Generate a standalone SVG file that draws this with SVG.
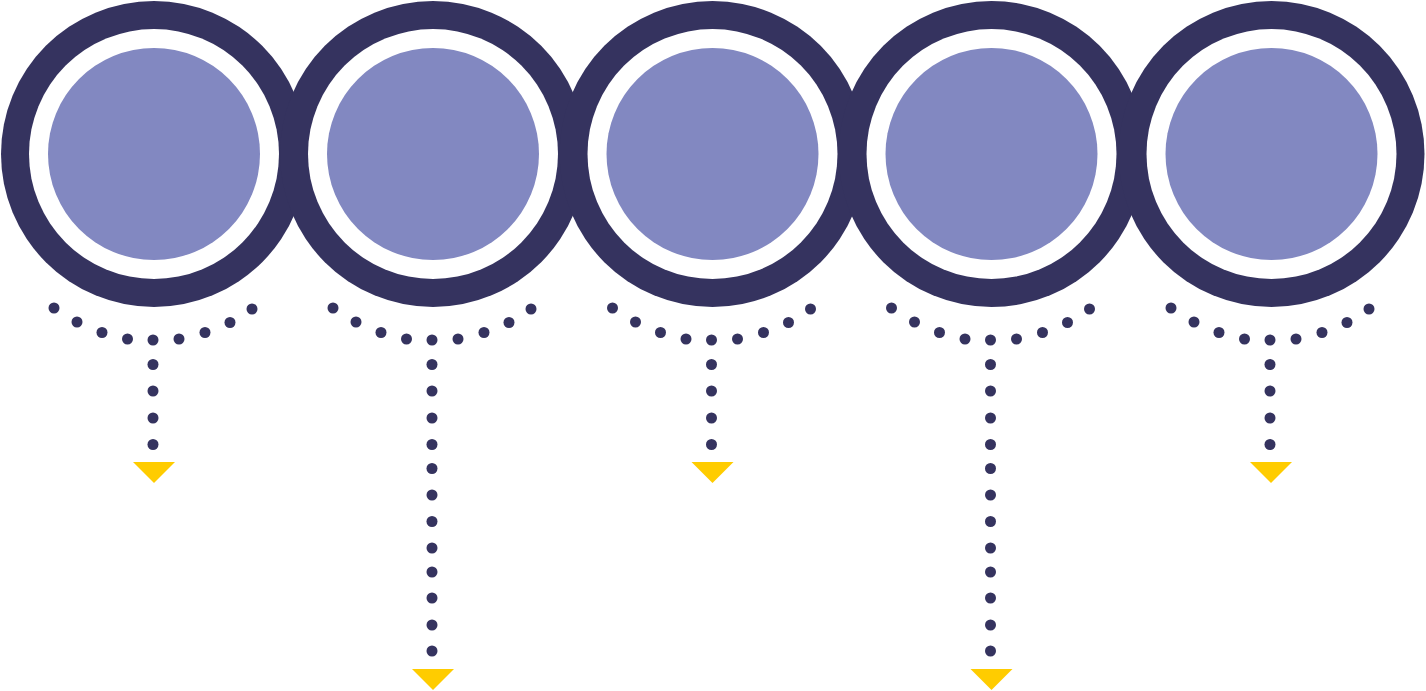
<svg xmlns="http://www.w3.org/2000/svg" xmlns:xlink="http://www.w3.org/1999/xlink" width="1426" height="691" viewBox="0 0 1426 691">
<style>
.outer{fill:#35335f}
.gap{fill:#ffffff}
.inner{fill:#8288c1}
.dot{fill:#35335f}
.head{fill:#ffcc00}
</style>
<defs>
<g id="arc">
<circle class="dot" cx="-100" cy="308" r="5.5"/>
<circle class="dot" cx="-77" cy="322" r="5.5"/>
<circle class="dot" cx="-52" cy="332.5" r="5.5"/>
<circle class="dot" cx="-26.5" cy="339" r="5.5"/>
<circle class="dot" cx="-1" cy="340" r="5.5"/>
<circle class="dot" cx="25" cy="339" r="5.5"/>
<circle class="dot" cx="51" cy="332.5" r="5.5"/>
<circle class="dot" cx="76" cy="322.5" r="5.5"/>
<circle class="dot" cx="98" cy="309" r="5.5"/>
</g>
<g id="short">
<circle class="dot" cx="-1" cy="364.5" r="5.5"/>
<circle class="dot" cx="-1" cy="391" r="5.5"/>
<circle class="dot" cx="-1" cy="418" r="5.5"/>
<circle class="dot" cx="-1" cy="444.5" r="5.5"/>
<polygon class="head" points="-21,462 21,462 0,483"/>
</g>
<g id="long">
<circle class="dot" cx="-1" cy="364.5" r="5.5"/>
<circle class="dot" cx="-1" cy="391" r="5.5"/>
<circle class="dot" cx="-1" cy="418" r="5.5"/>
<circle class="dot" cx="-1" cy="444.5" r="5.5"/>
<circle class="dot" cx="-1" cy="468.5" r="5.5"/>
<circle class="dot" cx="-1" cy="495" r="5.5"/>
<circle class="dot" cx="-1" cy="521.5" r="5.5"/>
<circle class="dot" cx="-1" cy="548" r="5.5"/>
<circle class="dot" cx="-1" cy="572" r="5.5"/>
<circle class="dot" cx="-1" cy="598" r="5.5"/>
<circle class="dot" cx="-1" cy="625" r="5.5"/>
<circle class="dot" cx="-1" cy="651" r="5.5"/>
<polygon class="head" points="-21,669 21,669 0,690"/>
</g>
</defs>
<g id="node1"><circle class="outer" cx="154" cy="154" r="153"/><circle class="gap" cx="154" cy="154" r="125"/><circle class="inner" cx="154" cy="154" r="106"/></g>
<g id="node2"><circle class="outer" cx="433" cy="154" r="153"/><circle class="gap" cx="433" cy="154" r="125"/><circle class="inner" cx="433" cy="154" r="106"/></g>
<g id="node3"><circle class="outer" cx="712.5" cy="154" r="153"/><circle class="gap" cx="712.5" cy="154" r="125"/><circle class="inner" cx="712.5" cy="154" r="106"/></g>
<g id="node4"><circle class="outer" cx="991.5" cy="154" r="153"/><circle class="gap" cx="991.5" cy="154" r="125"/><circle class="inner" cx="991.5" cy="154" r="106"/></g>
<g id="node5"><circle class="outer" cx="1271.5" cy="154" r="153"/><circle class="gap" cx="1271.5" cy="154" r="125"/><circle class="inner" cx="1271.5" cy="154" r="106"/></g>
<g id="connectors">
<use xlink:href="#arc" x="154"/><use xlink:href="#short" x="154"/>
<use xlink:href="#arc" x="433"/><use xlink:href="#long" x="433"/>
<use xlink:href="#arc" x="712.5"/><use xlink:href="#short" x="712.5"/>
<use xlink:href="#arc" x="991.5"/><use xlink:href="#long" x="991.5"/>
<use xlink:href="#arc" x="1271"/><use xlink:href="#short" x="1271"/>
</g>
</svg>
